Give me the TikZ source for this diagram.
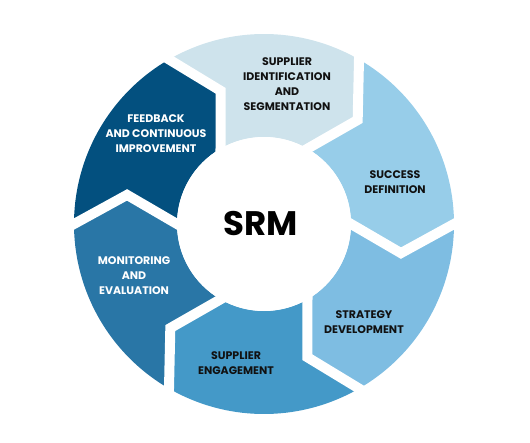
\documentclass[tikz,border=0pt]{standalone}
\usepackage{fontspec}
\setmainfont{Poppins}
\usepackage{tikz}

\definecolor{segone}{RGB}{206,227,236}
\definecolor{segtwo}{RGB}{151,205,233}
\definecolor{segthree}{RGB}{126,189,226}
\definecolor{segfour}{RGB}{68,153,200}
\definecolor{segfive}{RGB}{41,118,166}
\definecolor{segsix}{RGB}{3,80,127}
\definecolor{labelink}{RGB}{17,17,17}

\tikzset{
  gap/.style={draw=white,line width=10pt,line cap=rect,line join=miter},
  label/.style={font=\bfseries\fontsize{11}{15}\selectfont,align=center,text=labelink},
  whitelabel/.style={label,text=white}
}

\begin{document}
\begin{tikzpicture}[x=1pt,y=1pt]
\useasboundingbox (-264,-218) rectangle (266,224);
% segments, clockwise from the top
\fill[segone] (120:190) arc (120:60:190) -- (48:140) -- (60:87) arc (60:120:87) -- (108:140) -- cycle;
\fill[segtwo] (60:190) arc (60:0:190) -- (-12:140) -- (0:87) arc (0:60:87) -- (48:140) -- cycle;
\fill[segthree] (0:190) arc (0:-60:190) -- (-72:140) -- (-60:87) arc (-60:0:87) -- (-12:140) -- cycle;
\fill[segfour] (-60:190) arc (-60:-120:190) -- (-132:140) -- (-120:87) arc (-120:-60:87) -- (-72:140) -- cycle;
\fill[segfive] (-120:190) arc (-120:-180:190) -- (168:140) -- (180:87) arc (180:240:87) -- (228:140) -- cycle;
\fill[segsix] (180:190) arc (180:120:190) -- (108:140) -- (120:87) arc (120:180:87) -- (168:140) -- cycle;
% white gaps between the segments
\draw[gap] (120:190) -- (108:140) -- (120:87);
\draw[gap] (60:190) -- (48:140) -- (60:87);
\draw[gap] (0:190) -- (-12:140) -- (0:87);
\draw[gap] (-60:190) -- (-72:140) -- (-60:87);
\draw[gap] (-120:190) -- (-132:140) -- (-120:87);
\draw[gap] (180:190) -- (168:140) -- (180:87);
\fill[white] (0,0) circle (87);
% labels
\node[font=\bfseries\fontsize{34}{36}\selectfont,text=black] (srm) at (-3,0) {SRM};
\node[label] (ident) at (23,140) {SUPPLIER\\IDENTIFICATION\\AND\\SEGMENTATION};
\node[label] (success) at (131,42) {SUCCESS\\DEFINITION};
\node[label] (strategy) at (100,-98) {STRATEGY\\DEVELOPMENT};
\node[label] (engage) at (-28,-139) {SUPPLIER\\ENGAGEMENT};
\node[whitelabel] (monitor) at (-130,-52) {MONITORING\\AND\\EVALUATION};
\node[whitelabel] (feedback) at (-108,90) {FEEDBACK\\AND CONTINUOUS\\IMPROVEMENT};
\end{tikzpicture}
\end{document}
